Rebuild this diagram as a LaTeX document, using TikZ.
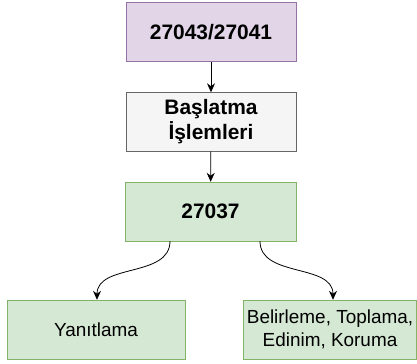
\documentclass[tikz,border=0pt]{standalone}
\usepackage{fontspec}
\setmainfont{Liberation Sans}
\usetikzlibrary{arrows.meta}

\definecolor{purplefill}{HTML}{E1D5E7}
\definecolor{purpleline}{HTML}{9673A6}
\definecolor{grayfill}{HTML}{F5F5F5}
\definecolor{grayline}{HTML}{666666}
\definecolor{greenfill}{HTML}{D5E8D4}
\definecolor{greenline}{HTML}{82B366}

\begin{document}
\begin{tikzpicture}
  [x=1bp,y=-1bp,
   every node/.style={rectangle,draw,align=center,inner sep=1bp,
     minimum width=170bp,minimum height=59bp},
   boldbox/.style={font=\fontsize{21}{25}\selectfont\bfseries},
   plainbox/.style={font=\fontsize{19}{23.5}\selectfont},
   flow/.style={-{Stealth[length=9bp,width=8bp]},thick}]
  \useasboundingbox (0,0) rectangle (417,364);

  \node[boldbox,fill=purplefill,draw=purpleline] (std) at (211,32) {27043/27041};
  \node[boldbox,fill=grayfill,draw=grayline] (start) at (211,122) {Başlatma\\İşlemleri};
  \node[boldbox,fill=greenfill,draw=greenline,minimum width=171bp] (main) at (210.5,211.5) {27037};
  \node[plainbox,fill=greenfill,draw=greenline,minimum width=178bp] (resp) at (96,329.5) {Yanıtlama};
  \node[plainbox,fill=greenfill,draw=greenline,minimum width=173bp] (ident) at (330,329.5) {Belirleme, Toplama,\\Edinim, Koruma};

  \foreach \from/\to in {std/start, start/main}
    \draw [flow] (\from) -- (\to);

  \draw [flow] (main.south -| 170,0) to[out=-90,in=90] (resp.north -| 97,0);
  \draw [flow] (main.south -| 260,0) to[out=-90,in=90] (ident.north -| 333,0);

\end{tikzpicture}
\end{document}
